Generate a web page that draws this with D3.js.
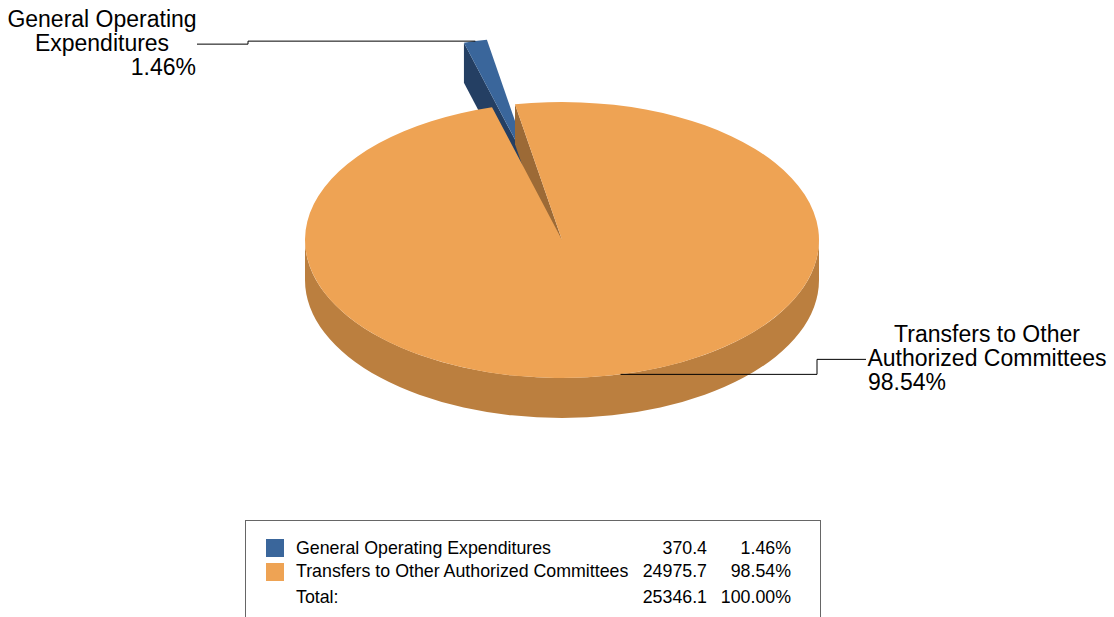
<!DOCTYPE html>
<head>
    <meta charset="utf-8">
    <style>
        body { margin: 0; background: #fff; }
        svg { display: block; font-family: "Liberation Sans", Arial, sans-serif; }
    </style>
</head>
<body>
    <div id="chart"></div>
    <script src="https://d3js.org/d3.v7.min.js"></script>
    <script>
        // data
        var categories = ["General Operating Expenditures", "Transfers to Other Authorized Committees"];
        var values = [370.4, 24975.7];
        var percents = ["1.46%", "98.54%"];
        var totalValue = "25346.1";
        var totalPercent = "100.00%";
        var labelLines = [["General Operating", "Expenditures"], ["Transfers to Other", "Authorized Committees"]];

        var topColors = ["#3a669b", "#eea354"];
        var sideColors = ["#243f63", "#bb7f3f"];
        var faceColors = ["#243f63", "#9c6a36"];

        var width = 1114, height = 617;
        var cx = 562, cy = 240, rx = 257, ry = 138, depth = 40;
        var explode = [0.48, 0];

        var svg = d3.select("#chart").append("svg")
            .attr("width", width)
            .attr("height", height);

        var deg = Math.PI / 180;
        var pie = d3.pie().sort(null).startAngle(-15.8 * deg).endAngle(344.2 * deg);
        var arcs = pie(values);

        // projected point on the tilted ellipse
        function pt(a, off) {
            return [cx + rx * Math.sin(a) + off[0], cy - ry * Math.cos(a) + off[1]];
        }
        function offsetOf(d, i) {
            var m = (d.startAngle + d.endAngle) / 2;
            return [explode[i] * rx * Math.sin(m), -explode[i] * ry * Math.cos(m)];
        }
        function topPath(d, off) {
            var c = [cx + off[0], cy + off[1]];
            var p0 = pt(d.startAngle, off), p1 = pt(d.endAngle, off);
            var large = (d.endAngle - d.startAngle) > Math.PI ? 1 : 0;
            return "M" + c + "L" + p0 + "A" + rx + "," + ry + " 0 " + large + " 1 " + p1 + "Z";
        }
        function facePath(a, off) {
            var c = [cx + off[0], cy + off[1]];
            var p = pt(a, off);
            return "M" + c + "L" + p + "L" + [p[0], p[1] + depth] + "L" + [c[0], c[1] + depth] + "Z";
        }
        function wallPath(a0, a1, off) {
            var p0 = pt(a0, off), p1 = pt(a1, off);
            return "M" + p0 + "A" + rx + "," + ry + " 0 0 1 " + p1 +
                "L" + [p1[0], p1[1] + depth] +
                "A" + rx + "," + ry + " 0 0 0 " + [p0[0], p0[1] + depth] + "Z";
        }

        var g = svg.append("g");

        // blue slice (exploded, behind)
        var b = arcs[0], bo = offsetOf(b, 0);
        g.append("path").attr("d", facePath(b.startAngle, bo)).attr("fill", faceColors[0]);
        g.append("path").attr("d", topPath(b, bo)).attr("fill", topColors[0]);

        // orange slice
        var o = arcs[1], oo = offsetOf(o, 1);
        g.append("path").attr("d", wallPath(90 * deg, 270 * deg, oo)).attr("fill", sideColors[1]);
        g.append("path").attr("d", facePath(o.startAngle, oo)).attr("fill", faceColors[1]);
        g.append("path").attr("d", topPath(o, oo)).attr("fill", topColors[1]);

        // leader lines + labels
        var bm = pt((b.startAngle + b.endAngle) / 2, bo);
        g.append("path")
            .attr("d", "M" + bm + "L248," + bm[1] + "L248," + (bm[1] + 3) + "L197," + (bm[1] + 3))
            .attr("fill", "none").attr("stroke", "#000").attr("stroke-width", 1);
        var om = pt((o.startAngle + o.endAngle) / 2, oo);
        g.append("path")
            .attr("d", "M" + om + "L817," + om[1] + "L817," + (om[1] - 15) + "L866," + (om[1] - 15))
            .attr("fill", "none").attr("stroke", "#000").attr("stroke-width", 1);

        var lab = svg.append("g").attr("font-size", "23px").attr("fill", "#000");
        labelLines[0].forEach(function(t, i) {
            lab.append("text").attr("x", 102).attr("y", 27 + i * 24).attr("text-anchor", "middle").text(t);
        });
        lab.append("text").attr("x", 196).attr("y", 75).attr("text-anchor", "end").text(percents[0]);
        labelLines[1].forEach(function(t, i) {
            lab.append("text").attr("x", 987).attr("y", 342 + i * 24).attr("text-anchor", "middle").text(t);
        });
        lab.append("text").attr("x", 868).attr("y", 390).attr("text-anchor", "start").text(percents[1]);

        // legend
        var leg = svg.append("g").attr("font-size", "17.8px");
        leg.append("rect").attr("x", 245.5).attr("y", 520.5).attr("width", 575).attr("height", 120)
            .attr("fill", "#fff").attr("stroke", "#666");
        var rows = categories.map(function(c, i) {
            return { name: c, value: values[i].toFixed(1), pct: percents[i], color: topColors[i] };
        });
        rows.push({ name: "Total:", value: totalValue, pct: totalPercent, color: null });
        var ys = [554, 577, 603];
        rows.forEach(function(r, i) {
            if (r.color) {
                leg.append("rect").attr("x", 266).attr("y", 539 + i * 24).attr("width", 18).attr("height", 18).attr("fill", r.color);
            }
            leg.append("text").attr("x", 296).attr("y", ys[i]).text(r.name);
            leg.append("text").attr("x", 707).attr("y", ys[i]).attr("text-anchor", "end").text(r.value);
            leg.append("text").attr("x", 791).attr("y", ys[i]).attr("text-anchor", "end").text(r.pct);
        });
    </script>
</body>
